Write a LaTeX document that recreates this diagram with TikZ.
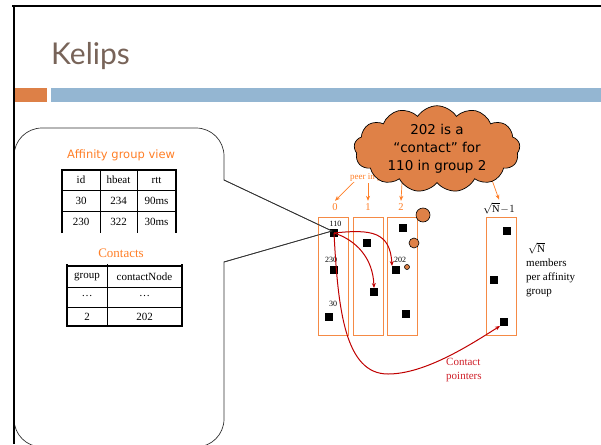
\documentclass[tikz,border=0pt]{standalone}
\usepackage{fontspec}
\setmainfont{Liberation Serif}
\newfontfamily\tahoma{DejaVu Sans}
\newfontfamily\titlefont{Lato}
\usetikzlibrary{shapes.symbols,arrows.meta}
\definecolor{titlecol}{HTML}{786459}
\definecolor{barorange}{HTML}{DD8047}
\definecolor{barblue}{HTML}{94B6D2}
\definecolor{cloudor}{HTML}{DF8147}
\definecolor{txtorange}{HTML}{FF7F27}
\definecolor{colorange}{HTML}{F58A45}
\definecolor{arrred}{HTML}{C00000}
\definecolor{txtred}{HTML}{D0202A}
\tikzset{
  sq/.style={fill=black,minimum size=7.5,inner sep=0pt},
  colbox/.style={draw=colorange,line width=1pt,minimum width=30,minimum height=118,inner sep=0pt},
  oarrow/.style={draw=txtorange,line width=0.7pt,-{Stealth[length=5pt,width=4pt]}},
  rarrow/.style={draw=arrred,line width=1pt,-{Stealth[length=5pt,width=4pt]}},
  tiny/.style={font=\fontsize{8}{9}\selectfont,inner sep=0pt},
  cell/.style={font=\fontsize{11}{12}\selectfont,inner sep=0pt},
  lbl/.style={font=\fontsize{10.5}{12}\selectfont,inner sep=2.5pt},
  bubble/.style={draw=black,fill=cloudor,line width=0.6pt,circle,inner sep=0pt}
}
\begin{document}
\begin{tikzpicture}[x=1pt,y=-1pt]
\useasboundingbox (0,0) rectangle (601,444);
\begin{scope}
\clip (0,0) rectangle (601,444);
\fill[white] (0,0) rectangle (601,444);
% header
\node[anchor=base west,inner sep=0pt,text=titlecol,font=\titlefont\fontsize{30}{32}\selectfont] (title) at (51,64) {Kelips};
\fill[barorange] (14,88) rectangle (47,102);
\fill[barblue] (51,88) rectangle (601,102);
% callout panel
\coordinate (tip) at (332,231);
\draw[line width=0.7pt,draw=black!80] (14,156) .. controls (14,140.5) and (26.5,128) .. (42,128) -- (196,128)
  .. controls (211.5,128) and (224,140.5) .. (224,156) -- (224,180) -- (tip) -- (224,262) -- (224,419)
  .. controls (224,434.5) and (211.5,447) .. (196,447) -- (42,447)
  .. controls (26.5,447) and (14,434.5) .. (14,419) -- cycle;
% border
\draw[line width=2pt,black] (12,6) -- (601,6);
\draw[line width=2pt,black] (14,5) -- (14,444);
% affinity table
\node[text=txtorange,font=\tahoma\fontsize{11.5}{13}\selectfont,inner sep=0pt] (afftitle) at (121,155) {Affinity group view};
\draw[line width=0.8pt] (100,170) -- (100,233) (137,170) -- (137,233) (62,190) -- (176,190) (62,211) -- (176,211);
\draw[line width=1.6pt] (62,233) -- (62,170) -- (176,170) -- (176,233);
\node[cell] at (81,180) {id};
\node[cell] at (118.5,180) {hbeat};
\node[cell] at (156.5,180) {rtt};
\node[cell] at (81,200.5) {30};
\node[cell] at (118.5,200.5) {234};
\node[cell] at (156.5,200.5) {90ms};
\node[cell] at (81,222) {230};
\node[cell] at (118.5,222) {322};
\node[cell] at (156.5,222) {30ms};
% contacts table
\node[text=txtorange,font=\fontsize{13}{14}\selectfont,inner sep=0pt] (conttitle) at (121,253) {Contacts};
\draw[line width=0.8pt] (107,264) -- (107,326) (67,287) -- (182,287) (67,307) -- (182,307);
\draw[line width=1.6pt] (67,264) -- (67,326) -- (182,326) -- (182,264) (67,266) -- (182,266);
\node[cell] at (87,276.5) {group};
\node[cell] at (144.5,276.5) {contactNode};
\node[cell] at (87,296) {\dots};
\node[cell] at (144.5,296) {\dots};
\node[cell] at (87,316.5) {2};
\node[cell] at (144.5,316.5) {202};
% columns
\node[colbox] (c0) at (333,276) {};
\node[colbox] (c1) at (368,276) {};
\node[colbox] (c2) at (402,276) {};
\node[colbox] (c3) at (501,276) {};
% squares
\node[sq] (s110) at (334,233) {};
\node[sq] (s230) at (334,270) {};
\node[sq] (s30) at (329,317) {};
\node[sq] (s1a) at (367,243) {};
\node[sq] (s1b) at (374,292) {};
\node[sq] (s2a) at (403,228) {};
\node[sq] (s202) at (396,270) {};
\node[sq] (s2c) at (406,314) {};
\node[sq] (s3a) at (507,231) {};
\node[sq] (s3b) at (494,280) {};
\node[sq] (s3c) at (504,322) {};
\node[tiny] at (335.5,224) {110};
\node[tiny] at (331,260) {230};
\node[tiny] at (333,304) {30};
\node[tiny] at (400,260) {202};
% callout lines tip drawn again over columns
\draw[line width=0.7pt,draw=black!80] (224,180) -- (tip) -- (224,262);
% labels
\node[lbl,text=txtorange] (l0) at (335,207) {0};
\node[lbl,text=txtorange] (l1) at (368,207) {1};
\node[lbl,text=txtorange] (l2) at (401,207) {2};
\node[lbl] (l3) at (499,208) {$\sqrt{\mathrm{N}}\!-\!1$};
% peer text and arrows
\node[anchor=west,text=txtorange,font=\fontsize{9}{10}\selectfont,inner sep=0pt] (peer) at (350,177) {peer in group};
\coordinate (p0) at (354,182);
\coordinate (p1) at (368,183);
\coordinate (p2) at (402,183);
\coordinate (p3) at (492,180);
\draw[oarrow] (p0) -- (l0.north);
\draw[oarrow] (p1) -- (l1.north);
\draw[oarrow] (p2) -- (l2.north);
\draw[oarrow] (p3) -- (l3.north);
% cloud
\node[cloud,cloud puffs=13,cloud puff arc=115,aspect=2.1,draw=black,line width=0.7pt,fill=cloudor,
  minimum width=166,minimum height=80,inner sep=0pt,align=center,
  font=\tahoma\fontsize{13.5}{18}\selectfont] (cloud) at (437,149) {202 is a\\“contact” for\\110 in group 2};
\node[bubble,minimum size=14] (b1) at (423,215) {};
\node[bubble,minimum size=10] (b2) at (414,243) {};
\node[bubble,minimum size=5] (b3) at (407,267) {};
% red pointers
\draw[rarrow] (s110.center) .. controls (356,240) and (373,258) .. (s1b.north);
\draw[rarrow] (s110.center) .. controls (372,229) and (390,232) .. (s202.north west);
\draw[rarrow] (s110.center) .. controls (338,310) and (345,374) .. (388,374) .. controls (425,374) and (470,345) .. (s3c.south west);
\node[anchor=north west,align=left,text=txtred,font=\fontsize{11}{14}\selectfont,inner sep=0pt] (cp) at (446,358) {Contact\\pointers};
% right text
\node[anchor=north west,align=left,font=\fontsize{11}{14}\selectfont,inner sep=0pt] (members) at (526,242) {\,$\sqrt{\mathrm{N}}$\\members\\per affinity\\group};
\end{scope}
\end{tikzpicture}
\end{document}
